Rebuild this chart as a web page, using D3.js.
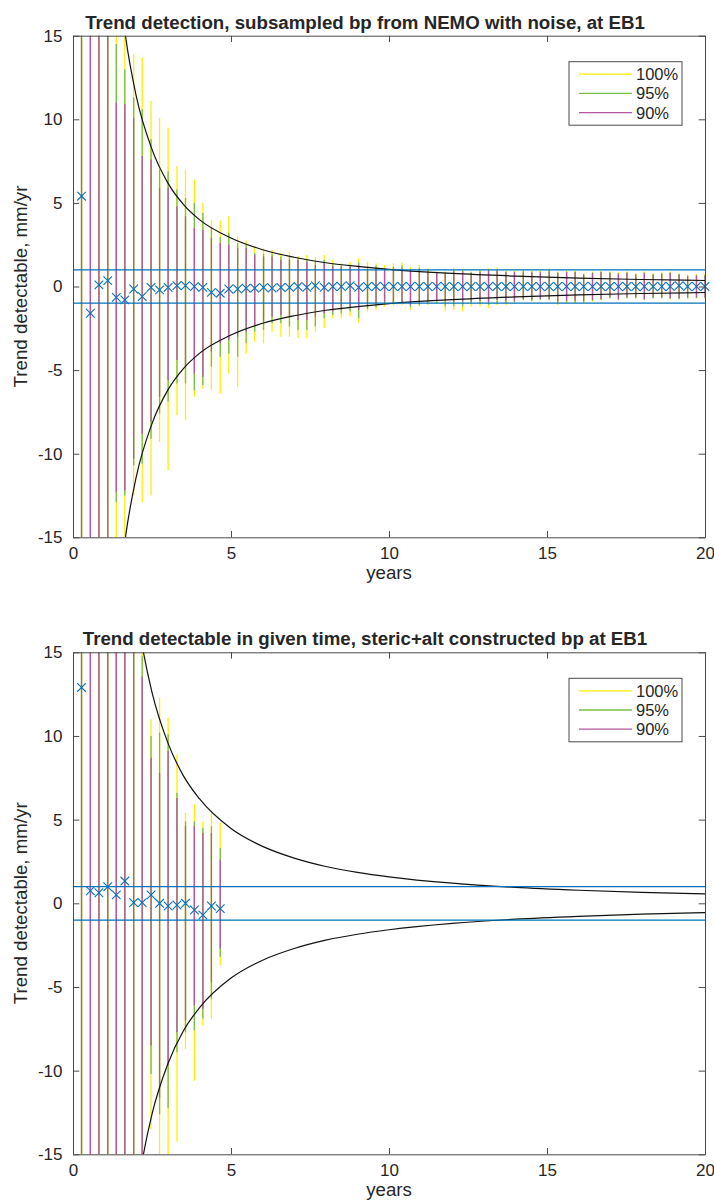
<!DOCTYPE html>
<html>
<head>
<meta charset="utf-8">
<script src="https://cdn.jsdelivr.net/npm/d3@7/dist/d3.min.js"></script>
<style>
body { margin: 0; background: #fff; }
svg text { font-family: "Liberation Sans", Arial, Helvetica, sans-serif; fill: #262626; }
</style>
</head>
<body>
<svg id="fig" width="714" height="1204"></svg>
<script>

// sample lengths, years (one every 100 days)
var sampleYears = [0.27, 0.55, 0.82, 1.10, 1.37, 1.64, 1.92, 2.19, 2.47, 2.74,
  3.01, 3.29, 3.56, 3.84, 4.11, 4.38, 4.66, 4.93, 5.21, 5.48,
  5.75, 6.03, 6.30, 6.58, 6.85, 7.12, 7.40, 7.67, 7.95, 8.22,
  8.49, 8.77, 9.04, 9.32, 9.59, 9.86, 10.14, 10.41, 10.68, 10.96,
  11.23, 11.51, 11.78, 12.05, 12.33, 12.60, 12.88, 13.15, 13.42, 13.70,
  13.97, 14.25, 14.52, 14.79, 15.07, 15.34, 15.62, 15.89, 16.16, 16.44,
  16.71, 16.99, 17.26, 17.53, 17.81, 18.08, 18.36, 18.63, 18.90, 19.18,
  19.45, 19.73, 20.00];

// top panel: NEMO subsampled with noise
var topHi100 = [20, 20, 20, 20, 20, 20, 13.9, 13.7, 11.1, 10.1,
  9.5, 7.2, 7.0, 6.4, 5.0, 4.0, 3.95, 4.2, 3.0, 2.75,
  2.4, 2.3, 2.2, 2.0, 2.1, 1.82, 1.88, 1.74, 1.88, 1.58,
  1.39, 1.48, 1.69, 1.48, 1.39, 1.29, 1.39, 1.42, 1.15, 1.29,
  1.09, 0.89, 0.89, 1.09, 1.03, 0.89, 1.03, 1.09, 1.15, 0.95,
  0.95, 0.99, 0.95, 0.95, 1.09, 0.89, 0.95, 0.95, 0.79, 0.89,
  0.95, 0.89, 0.85, 0.89, 0.79, 0.89, 0.79, 0.85, 0.89, 0.79,
  0.69, 0.75, 0.75];
var topHi95 = [20, 20, 20, 20, 14.5, 13.0, 11.3, 10.6, 8.8, 7.0,
  6.9, 5.8, 5.3, 5.0, 4.4, 3.5, 2.95, 3.2, 2.6, 2.5,
  2.0, 1.95, 1.95, 1.8, 1.8, 1.7, 1.65, 1.5, 1.6, 1.35,
  1.25, 1.3, 1.45, 1.2, 1.25, 1.1, 1.2, 1.25, 1.05, 1.1,
  1.0, 0.85, 0.85, 1.0, 0.95, 0.85, 0.95, 1.0, 1.0, 0.9,
  0.9, 0.95, 0.9, 0.9, 1.0, 0.85, 0.9, 0.9, 0.75, 0.85,
  0.9, 0.85, 0.8, 0.85, 0.75, 0.85, 0.75, 0.8, 0.85, 0.75,
  0.65, 0.7, 0.7];
var topHi90 = [20, 20, 20, 20, 11.0, 10.9, 10.1, 7.8, 7.6, 5.9,
  5.9, 4.8, 4.2, 3.5, 3.4, 2.9, 2.6, 2.5, 2.3, 2.3,
  1.9, 1.8, 1.8, 1.6, 1.6, 1.58, 1.48, 1.29, 1.39, 1.23,
  1.18, 1.18, 1.29, 0.99, 1.09, 0.99, 1.09, 1.09, 0.99, 0.99,
  0.89, 0.79, 0.79, 0.9, 0.9, 0.8, 0.85, 0.95, 0.95, 0.85,
  0.85, 0.85, 0.85, 0.85, 0.9, 0.8, 0.85, 0.85, 0.7, 0.8,
  0.85, 0.8, 0.75, 0.8, 0.7, 0.8, 0.7, 0.75, 0.8, 0.7,
  0.6, 0.65, 0.65];
var topLo90 = [-20, -20, -20, -20, -12.3, -12.2, -10.3, -8.8, -8.1, -6.6,
  -5.6, -4.4, -4.8, -5.2, -5.4, -3.9, -3.4, -3.2, -3.0, -2.7,
  -2.3, -2.1, -1.8, -1.7, -1.8, -2.0, -2.0, -1.8, -1.6, -1.5,
  -1.4, -1.3, -1.4, -1.2, -1.0, -0.91, -0.91, -0.95, -1.1, -1.0,
  -0.91, -0.85, -0.85, -0.91, -0.91, -0.91, -0.85, -0.95, -0.81, -0.85,
  -0.85, -0.75, -0.8, -0.75, -0.75, -0.9, -0.85, -0.85, -0.85, -0.8,
  -0.75, -0.65, -0.75, -0.65, -0.65, -0.75, -0.65, -0.65, -0.7, -0.7,
  -0.65, -0.65, -0.65];
var topLo95 = [-20, -20, -20, -20, -12.9, -12.5, -10.7, -10.6, -9.1, -7.6,
  -6.9, -5.8, -5.8, -6.2, -5.9, -4.8, -4.2, -4.0, -4.2, -3.4,
  -2.7, -2.6, -2.2, -2.2, -2.4, -2.6, -2.6, -2.4, -1.9, -1.7,
  -1.6, -1.5, -1.9, -1.35, -1.25, -1.05, -1.05, -1.0, -1.25, -1.1,
  -1.0, -0.95, -1.2, -1.2, -1.2, -1.0, -1.0, -1.1, -1.0, -1.0,
  -0.95, -0.8, -0.85, -0.8, -0.8, -1.0, -0.95, -0.95, -0.95, -0.85,
  -0.8, -0.7, -0.8, -0.7, -0.7, -0.8, -0.7, -0.7, -0.75, -0.75,
  -0.7, -0.7, -0.7];
var topLo100 = [-20, -20, -20, -20, -20, -20, -12.5, -12.9, -12.5, -9.3,
  -11.0, -7.7, -8.0, -6.6, -6.1, -6.2, -6.4, -5.2, -6.0, -4.0,
  -3.3, -3.4, -2.7, -3.0, -3.0, -3.1, -3.1, -2.7, -2.5, -1.9,
  -1.9, -1.8, -2.17, -1.5, -1.41, -1.2, -1.15, -1.1, -1.41, -1.21,
  -1.11, -1.0, -1.5, -1.41, -1.5, -1.21, -1.21, -1.3, -1.1, -1.1,
  -0.95, -0.81, -0.9, -0.81, -0.81, -1.1, -1.0, -1.0, -1.0, -0.9,
  -0.81, -0.71, -0.81, -0.71, -0.71, -0.81, -0.71, -0.71, -0.77, -0.77,
  -0.71, -0.71, -0.71];
var topMean = [5.4, -1.6, 0.1, 0.35, -0.65, -0.8, -0.15, -0.6, -0.05, -0.2,
  -0.05, 0.05, 0.05, 0.0, -0.05, -0.35, -0.4, -0.15, -0.15, -0.1,
  -0.1, -0.05, -0.1, -0.05, -0.05, 0.0, -0.05, 0.05, -0.05, 0.0,
  0.0, 0.05, -0.05, 0.0, 0.0, 0.0, 0.0, 0.0, 0.0, 0.0,
  0.0, 0.0, 0.0, 0.0, 0.0, 0.0, 0.0, 0.0, 0.0, 0.0,
  0.0, 0.0, 0.0, 0.0, 0.0, 0.0, 0.0, 0.0, 0.0, 0.0,
  0.0, 0.0, 0.0, 0.0, 0.0, 0.0, 0.0, 0.0, 0.0, 0.05,
  0.0, 0.0, 0.0];

// bottom panel: steric+alt constructed (only first 17 lengths)
var botHi100 = [20, 20, 20, 20, 20, 20, 20, 20, 11.0, 12.3, 11.1, 8.9, 5.4, 5.9, 4.9, 5.4, 4.8];
var botHi95 = [20, 20, 20, 20, 20, 20, 20, 14.8, 10.0, 10.2, 10.1, 6.6, 4.9, 4.9, 4.5, 4.6, 3.3];
var botHi90 = [20, 20, 20, 20, 20, 20, 20, 13.55, 8.7, 7.8, 9.1, 6.3, 4.6, 4.6, 4.2, 4.2, 2.6];
var botLo90 = [-20, -20, -20, -20, -20, -20, -20, -20, -8.5, -11.6, -9.7, -7.7, -7.0, -6.1, -6.3, -4.7, -2.7];
var botLo95 = [-20, -20, -20, -20, -20, -20, -20, -20, -10.2, -12.6, -12.25, -8.9, -7.7, -7.6, -6.9, -5.7, -3.2];
var botLo100 = [-20, -20, -20, -20, -20, -20, -20, -20, -13.5, -20, -20, -14.25, -8.7, -10.6, -7.3, -6.9, -3.7];
var botMean = [12.9, 0.75, 0.63, 0.99, 0.5, 1.33, 0.04, 0.04, 0.5, 0.0, -0.16, -0.1, 0.0, -0.4, -0.7, -0.16, -0.32];

// detectable trend envelope (black curves)
var topCurveYears = [1.5, 1.66, 2, 2.5, 3, 3.5, 4, 5, 6, 7, 8, 9, 10, 12, 14, 16, 18, 20];
var topCurve = [17.5, 15, 11.4, 8.2, 6.2, 4.9, 4.0, 2.9, 2.2, 1.75, 1.42, 1.2, 1.02, 0.78, 0.62, 0.5, 0.42, 0.36];
var botCurveYears = [2, 2.2, 2.5, 3, 3.5, 4, 5, 6, 7, 8, 9, 10, 12, 14, 16, 18, 20];
var botCurve = [17.7, 15.3, 12.6, 9.6, 7.6, 6.25, 4.47, 3.4, 2.7, 2.2, 1.85, 1.58, 1.2, 0.95, 0.78, 0.65, 0.56];

var xTicks = [0, 5, 10, 15, 20];
var yTicks = [-15, -10, -5, 0, 5, 10, 15];
var targetLevels = [-1, 1];
var legendLabels = ['100%', '95%', '90%'];
var legendColors = ['#ffef00', '#78c043', '#b5579e'];

var svg = d3.select('#fig');

var drawPanel = (p) => {

  var x = d3.scaleLinear().domain([0, 20]).range([73, 705]);
  var y = d3.scaleLinear().domain([-15, 15]).range([p.bottom, p.top]);

  var g = svg.append('g');

  g.append('clipPath')
    .attr('id', p.id + '-clip')
    .append('rect')
    .attr('x', 73).attr('y', p.top)
    .attr('width', 632).attr('height', p.bottom - p.top);

  var plot = g.append('g').attr('clip-path', 'url(#' + p.id + '-clip)');

  var n = p.mean.length;
  var idx = d3.range(n);

  // bars: 100% first, 95% over it, 90% on top
  var ranges = [[p.hi100, p.lo100], [p.hi95, p.lo95], [p.hi90, p.lo90]];
  ranges.forEach(function(r, k) {
    plot.selectAll('line.b' + k)
      .data(idx)
      .enter()
      .append('line')
      .attr('class', 'b' + k)
      .attr('x1', function(i) { return x(sampleYears[i]); })
      .attr('x2', function(i) { return x(sampleYears[i]); })
      .attr('y1', function(i) { return y(r[0][i]); })
      .attr('y2', function(i) { return y(r[1][i]); })
      .attr('stroke', legendColors[k])
      .attr('stroke-width', 1.3);
  });

  // detectable envelope
  var line = d3.line()
    .x(function(d) { return x(d[0]); })
    .y(function(d) { return y(d[1]); })
    .curve(d3.curveMonotoneX);

  var upper = p.curveYears.map(function(t, i) { return [t, p.curve[i]]; });
  var lower = p.curveYears.map(function(t, i) { return [t, -p.curve[i]]; });
  [upper, lower].forEach(function(pts) {
    plot.append('path')
      .datum(pts)
      .attr('d', line)
      .attr('fill', 'none')
      .attr('stroke', '#111')
      .attr('stroke-width', 1.2);
  });

  // +-1 mm/yr
  plot.selectAll('line.lvl')
    .data(targetLevels)
    .enter()
    .append('line')
    .attr('class', 'lvl')
    .attr('x1', x(0)).attr('x2', x(20))
    .attr('y1', function(d) { return y(d); })
    .attr('y2', function(d) { return y(d); })
    .attr('stroke', '#0072bd')
    .attr('stroke-width', 1.2);

  // mean trend crosses
  var s = 4.3;
  g.selectAll('path.cross')
    .data(idx)
    .enter()
    .append('path')
    .attr('class', 'cross')
    .attr('d', function(i) {
      var cx = x(sampleYears[i]), cy = y(p.mean[i]);
      return 'M' + (cx - s) + ',' + (cy - s) + 'L' + (cx + s) + ',' + (cy + s) +
             'M' + (cx - s) + ',' + (cy + s) + 'L' + (cx + s) + ',' + (cy - s);
    })
    .attr('stroke', '#0072bd')
    .attr('stroke-width', 1.1)
    .attr('fill', 'none');

  // axes, ticks pointing inward on all four sides
  var tk = 6.3;
  var fmt = function(d) { return String(d); };  // plain hyphen like matlab
  var axStyle = function(sel) {
    sel.selectAll('path.domain').attr('stroke', '#4a4a4a');
    sel.selectAll('.tick line').attr('stroke', '#4a4a4a');
    sel.selectAll('text').attr('font-size', 17).attr('fill', '#404040');
  };

  g.append('g')
    .attr('transform', 'translate(0,' + p.bottom + ')')
    .call(d3.axisBottom(x).tickValues(xTicks).tickFormat(fmt).tickSizeInner(-tk).tickSizeOuter(0).tickPadding(9.5))
    .call(axStyle);
  g.append('g')
    .attr('transform', 'translate(0,' + p.top + ')')
    .call(d3.axisTop(x).tickValues(xTicks).tickSizeInner(-tk).tickSizeOuter(0).tickFormat(''))
    .call(axStyle);
  g.append('g')
    .attr('transform', 'translate(73,0)')
    .call(d3.axisLeft(y).tickValues(yTicks).tickFormat(fmt).tickSizeInner(-tk).tickSizeOuter(0).tickPadding(10.5))
    .call(axStyle);
  g.append('g')
    .attr('transform', 'translate(705,0)')
    .call(d3.axisRight(y).tickValues(yTicks).tickSizeInner(-tk).tickSizeOuter(0).tickFormat(''))
    .call(axStyle);

  g.selectAll('.domain').attr('stroke-width', 1);

  // titles and labels
  g.append('text')
    .attr('x', p.titleX).attr('y', p.top - 7)
    .attr('text-anchor', 'middle')
    .attr('font-size', 18.7)
    .attr('font-weight', 'bold')
    .attr('fill', '#000')
    .text(p.title);

  g.append('text')
    .attr('x', 389).attr('y', p.bottom + 42)
    .attr('text-anchor', 'middle')
    .attr('font-size', 18.7)
    .attr('fill', '#404040')
    .text('years');

  g.append('text')
    .attr('transform', 'translate(26.5,' + y(0) + ') rotate(-90)')
    .attr('text-anchor', 'middle')
    .attr('font-size', 18.7)
    .attr('fill', '#404040')
    .text('Trend detectable, mm/yr');

  // legend
  var lg = g.append('g').attr('transform', 'translate(569,' + (p.top + 26) + ')');
  lg.append('rect')
    .attr('x', 0).attr('y', 0)
    .attr('width', 113).attr('height', 63.5)
    .attr('fill', '#fff')
    .attr('stroke', '#4a4a4a')
    .attr('stroke-width', 1);
  legendLabels.forEach(function(lab, k) {
    var ly = 12.5 + k * 19.2;
    lg.append('line')
      .attr('x1', 10).attr('x2', 63)
      .attr('y1', ly).attr('y2', ly)
      .attr('stroke', legendColors[k])
      .attr('stroke-width', 1.3);
    lg.append('text')
      .attr('x', 67).attr('y', ly + 6)
      .attr('font-size', 16.5)
      .attr('fill', '#222')
      .text(lab);
  });
}

drawPanel({
  id: 'top', top: 35.7, bottom: 537.3, titleX: 365,
  title: 'Trend detection, subsampled bp from NEMO with noise, at EB1',
  hi100: topHi100, hi95: topHi95, hi90: topHi90,
  lo90: topLo90, lo95: topLo95, lo100: topLo100, mean: topMean,
  curveYears: topCurveYears, curve: topCurve
});

drawPanel({
  id: 'bot', top: 652.3, bottom: 1154.3, titleX: 365,
  title: 'Trend detectable in given time, steric+alt constructed bp at EB1',
  hi100: botHi100, hi95: botHi95, hi90: botHi90,
  lo90: botLo90, lo95: botLo95, lo100: botLo100, mean: botMean,
  curveYears: botCurveYears, curve: botCurve
});

</script>
</body>
</html>
